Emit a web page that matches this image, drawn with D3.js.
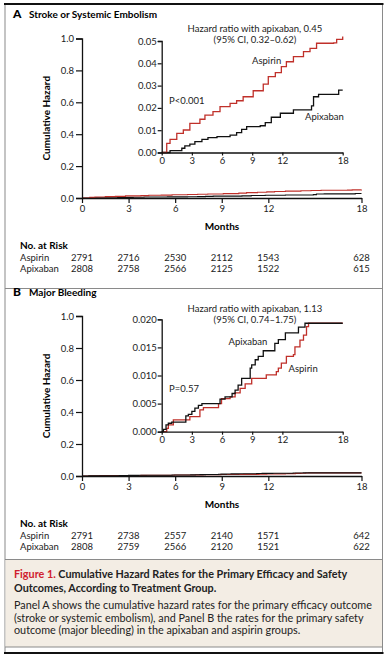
<!DOCTYPE html>
<html>
<head>
<meta charset="utf-8">
<style>
  body { margin: 0; background: #fff; }
  svg { display: block; font-family: Lato, "Open Sans", sans-serif; }
</style>
</head>
<body>
<svg id="chart"></svg>
<script src="https://cdn.jsdelivr.net/npm/d3@7"></script>
<script>
// months / cumulative hazard
const strokeAspirinMonths = [0, 0.5, 0.83, 1.5, 2.15, 2.8, 3.8, 4.3, 5.1, 5.8, 6.8, 7.45, 8.1, 9.1, 10.1, 10.6, 11.3, 11.9, 12.4, 13.1, 14.1, 14.75, 15.4, 17.1, 17.4, 18];
const strokeAspirinHazard = [0, 0.0041, 0.0059, 0.0086, 0.0101, 0.0131, 0.0149, 0.0168, 0.0183, 0.0206, 0.022, 0.0232, 0.025, 0.0277, 0.0307, 0.034, 0.0358, 0.0385, 0.0407, 0.043, 0.0452, 0.0467, 0.049, 0.0492, 0.0507, 0.052];
const strokeApixabanMonths = [0, 0.5, 0.83, 2, 2.3, 2.8, 3.3, 4.0, 4.6, 5.5, 6.8, 7.45, 7.95, 8.45, 9.8, 10.3, 10.9, 11.8, 13.1, 14.9, 15.1, 15.6, 17.4, 17.6, 18];
const strokeApixabanHazard = [0, 0, 0.0008, 0.0019, 0.003, 0.0038, 0.0049, 0.0059, 0.0067, 0.0071, 0.0078, 0.0089, 0.0104, 0.0116, 0.012, 0.0134, 0.0158, 0.0176, 0.0191, 0.0209, 0.025, 0.0261, 0.0261, 0.028, 0.028];

const bleedApixabanMonths = [0, 0.17, 0.43, 0.66, 1.0, 2.3, 2.4, 2.65, 3.0, 3.3, 3.65, 4.0, 5.6, 5.8, 6.3, 7.0, 7.3, 7.6, 7.95, 8.6, 8.8, 8.95, 9.3, 9.6, 10.1, 11.1, 11.25, 11.6, 12.1, 12.3, 13.4, 13.6, 14.1, 14.25, 18];
const bleedApixabanHazard = [0, 0.0004, 0.0012, 0.0015, 0.0017, 0.0017, 0.0028, 0.0031, 0.0036, 0.0042, 0.0047, 0.005, 0.005, 0.0058, 0.0062, 0.0068, 0.0074, 0.0083, 0.0095, 0.0095, 0.0113, 0.0119, 0.0128, 0.0134, 0.0144, 0.0144, 0.0157, 0.0164, 0.0164, 0.0176, 0.0176, 0.0186, 0.0186, 0.0193, 0.0193];
const bleedAspirinMonths = [0, 0.33, 0.5, 0.66, 1.16, 2.5, 2.8, 3.65, 3.8, 4.15, 5.5, 5.65, 5.95, 6.8, 7.3, 7.8, 8.3, 8.95, 10.1, 10.4, 11.4, 11.6, 11.9, 12.4, 13.1, 13.25, 13.75, 14.1, 14.4, 14.6, 18];
const bleedAspirinHazard = [0, 0, 0.0006, 0.0012, 0.0021, 0.0021, 0.0027, 0.0027, 0.0039, 0.0043, 0.0043, 0.005, 0.0059, 0.0062, 0.0069, 0.0077, 0.0085, 0.0095, 0.0095, 0.0101, 0.0107, 0.0113, 0.0122, 0.0134, 0.0137, 0.0151, 0.0163, 0.0172, 0.0187, 0.0193, 0.0193];

const riskMonths = [0, 3, 6, 9, 12, 18];
const strokeRiskAspirin = [2791, 2716, 2530, 2112, 1543, 628];
const strokeRiskApixaban = [2808, 2758, 2566, 2125, 1522, 615];
const bleedRiskAspirin = [2791, 2738, 2557, 2140, 1571, 642];
const bleedRiskApixaban = [2808, 2759, 2566, 2120, 1521, 622];

const mainYTicks = [0, 0.2, 0.4, 0.6, 0.8, 1.0];
const monthTicks = [0, 3, 6, 9, 12, 18];
const strokeInsetTicks = [0, 0.01, 0.02, 0.03, 0.04, 0.05];
const bleedInsetTicks = [0, 0.005, 0.010, 0.015, 0.020];

const W = 390, H = 656;
const red = "#c0302a";
const svg = d3.select("#chart").attr("width", W).attr("height", H);

function zip(ms, vs) { return ms.map((m, i) => [m, vs[i]]); }

// frame
svg.append("rect").attr("x", 5).attr("y", 4).attr("width", 377.5).attr("height", 649)
  .attr("fill", "none").attr("stroke", "#8a8a8a").attr("stroke-width", 1);
svg.append("rect").attr("x", 5.5).attr("y", 559).attr("width", 376.5).attr("height", 88)
  .attr("fill", "#f3ede4");
svg.append("line").attr("x1", 5).attr("x2", 382.5).attr("y1", 288.5).attr("y2", 288.5).attr("stroke", "#8a8a8a");
svg.append("line").attr("x1", 5).attr("x2", 382.5).attr("y1", 559.5).attr("y2", 559.5).attr("stroke", "#8a8a8a");
svg.append("line").attr("x1", 5).attr("x2", 382.5).attr("y1", 647).attr("y2", 647).attr("stroke", "#8a8a8a");
svg.append("line").attr("x1", 4).attr("x2", 383.5).attr("y1", 4).attr("y2", 4).attr("stroke", "#111").attr("stroke-width", 2);
svg.append("line").attr("x1", 4).attr("x2", 383.5).attr("y1", 653).attr("y2", 653).attr("stroke", "#111").attr("stroke-width", 2);

function styleAxis(g) {
  g.select(".domain").attr("stroke", "#111").attr("stroke-width", 1.3);
  g.selectAll(".tick line").attr("stroke", "#111").attr("stroke-width", 1.2);
  g.selectAll(".tick text").attr("fill", "#222").attr("font-size", 9.5).attr("font-family", "Lato, sans-serif");
}

function panel(cfg) {
  const g = svg.append("g").attr("transform", `translate(0,${cfg.top})`);
  g.append("text").attr("x", 13).attr("y", 18).attr("font-weight", 900).attr("font-size", 12).text(cfg.letter);
  g.append("text").attr("x", 29).attr("y", 18).attr("font-weight", 700).attr("font-size", 10).text(cfg.title);

  const x = d3.scaleLinear().domain([0, 18]).range([82, 361.5]);
  const y = d3.scaleLinear().domain([0, 1]).range([cfg.y0, cfg.y1]);

  const line = d3.line().x(d => x(d[0])).y(d => y(d[1])).curve(d3.curveStepAfter);
  cfg.series.forEach(s => {
    g.append("path").attr("d", line(s.data)).attr("fill", "none")
      .attr("stroke", s.color).attr("stroke-width", 1.1);
  });

  const ya = g.append("g").attr("transform", "translate(82,0)")
    .call(d3.axisLeft(y).tickValues(mainYTicks).tickFormat(d3.format(".1f")).tickSize(6).tickPadding(2));
  styleAxis(ya);
  const xa = g.append("g").attr("transform", `translate(0,${cfg.y0})`)
    .call(d3.axisBottom(x).tickValues(monthTicks).tickSize(5).tickPadding(2).tickSizeOuter(0));
  styleAxis(xa);

  g.append("text").attr("transform", `translate(50,${(cfg.y0 + cfg.y1) / 2}) rotate(-90)`)
    .attr("text-anchor", "middle").attr("font-weight", 700).attr("font-size", 10).text("Cumulative Hazard");
  g.append("text").attr("x", 222).attr("y", cfg.y0 + 32).attr("text-anchor", "middle")
    .attr("font-weight", 700).attr("font-size", 10).text("Months");

  // inset
  const ix = d3.scaleLinear().domain([0, 18]).range([161.7, 342.7]);
  const iy = d3.scaleLinear().domain(cfg.insetDomain).range([cfg.iy0, cfg.iy1]);
  const iline = d3.line().x(d => ix(d[0])).y(d => iy(d[1])).curve(d3.curveStepAfter);
  cfg.series.forEach(s => {
    g.append("path").attr("d", iline(s.data)).attr("fill", "none")
      .attr("stroke", s.color).attr("stroke-width", 1.3);
  });
  const iya = g.append("g").attr("transform", "translate(161.7,0)")
    .call(d3.axisLeft(iy).tickValues(cfg.insetTicks).tickFormat(d3.format(cfg.insetFormat)).tickSize(4).tickPadding(1));
  styleAxis(iya);
  const ixa = g.append("g").attr("transform", `translate(0,${cfg.iy0})`)
    .call(d3.axisBottom(ix).tickValues(monthTicks).tickSize(3).tickPadding(2).tickSizeOuter(0));
  styleAxis(ixa);

  cfg.notes.forEach(n => {
    g.append("text").attr("x", n.x).attr("y", n.y).attr("text-anchor", n.anchor || "start")
      .attr("font-size", 9.5).attr("fill", "#222").text(n.t);
  });

  // numbers at risk
  const ry = cfg.y0 + 51;
  g.append("text").attr("x", 20).attr("y", ry).attr("font-weight", 700).attr("font-size", 10).text("No. at Risk");
  [["Aspirin", cfg.riskA], ["Apixaban", cfg.riskB]].forEach((r, j) => {
    const yy = ry + 11.5 * (j + 1);
    g.append("text").attr("x", 20).attr("y", yy).attr("font-size", 9.5).attr("fill", "#222").text(r[0]);
    g.selectAll(null).data(r[1]).enter().append("text")
      .attr("x", (d, i) => x(riskMonths[i])).attr("y", yy).attr("text-anchor", "middle")
      .attr("font-size", 9.5).attr("fill", "#222").text(d => d);
  });
}

panel({
  top: 0, letter: "A", title: "Stroke or Systemic Embolism",
  y0: 198, y1: 38.5,
  series: [
    { data: zip(strokeApixabanMonths, strokeApixabanHazard), color: "#111" },
    { data: zip(strokeAspirinMonths, strokeAspirinHazard), color: red }
  ],
  insetDomain: [0, 0.05], insetTicks: strokeInsetTicks, insetFormat: ".2f", iy0: 152.5, iy1: 41,
  notes: [
    { x: 255, y: 31.5, t: "Hazard ratio with apixaban, 0.45", anchor: "middle" },
    { x: 255, y: 43, t: "(95% CI, 0.32\u20130.62)", anchor: "middle" },
    { x: 252, y: 63.5, t: "Aspirin" },
    { x: 305, y: 120, t: "Apixaban" },
    { x: 169, y: 103.5, t: "P<0.001" }
  ],
  riskA: strokeRiskAspirin, riskB: strokeRiskApixaban
});

panel({
  top: 278, letter: "B", title: "Major Bleeding",
  y0: 198, y1: 38,
  series: [
    { data: zip(bleedAspirinMonths, bleedAspirinHazard), color: red },
    { data: zip(bleedApixabanMonths, bleedApixabanHazard), color: "#111" }
  ],
  insetDomain: [0, 0.02], insetTicks: bleedInsetTicks, insetFormat: ".3f", iy0: 153.7, iy1: 41.3,
  notes: [
    { x: 255, y: 33.5, t: "Hazard ratio with apixaban, 1.13", anchor: "middle" },
    { x: 255, y: 45, t: "(95% CI, 0.74\u20131.75)", anchor: "middle" },
    { x: 228.5, y: 67, t: "Apixaban" },
    { x: 288.5, y: 93.5, t: "Aspirin" },
    { x: 169, y: 114, t: "P=0.57" }
  ],
  riskA: bleedRiskAspirin, riskB: bleedRiskApixaban
});

// caption
const cap = svg.append("g").attr("font-size", 10.8);
const l1 = cap.append("text").attr("x", 14).attr("y", 577.5).attr("font-weight", 700);
l1.append("tspan").attr("fill", "#d0202e").text("Figure 1. ");
l1.append("tspan").attr("fill", "#222").text("Cumulative Hazard Rates for the Primary Efficacy and Safety");
cap.append("text").attr("x", 14).attr("y", 592).attr("font-weight", 700).attr("fill", "#222")
  .text("Outcomes, According to Treatment Group.");
["Panel A shows the cumulative hazard rates for the primary efficacy outcome",
 "(stroke or systemic embolism), and Panel B the rates for the primary safety",
 "outcome (major bleeding) in the apixaban and aspirin groups."].forEach((t, i) => {
  cap.append("text").attr("x", 14).attr("y", 609 + 12.6 * i).attr("fill", "#222").text(t);
});
</script>
</body>
</html>
